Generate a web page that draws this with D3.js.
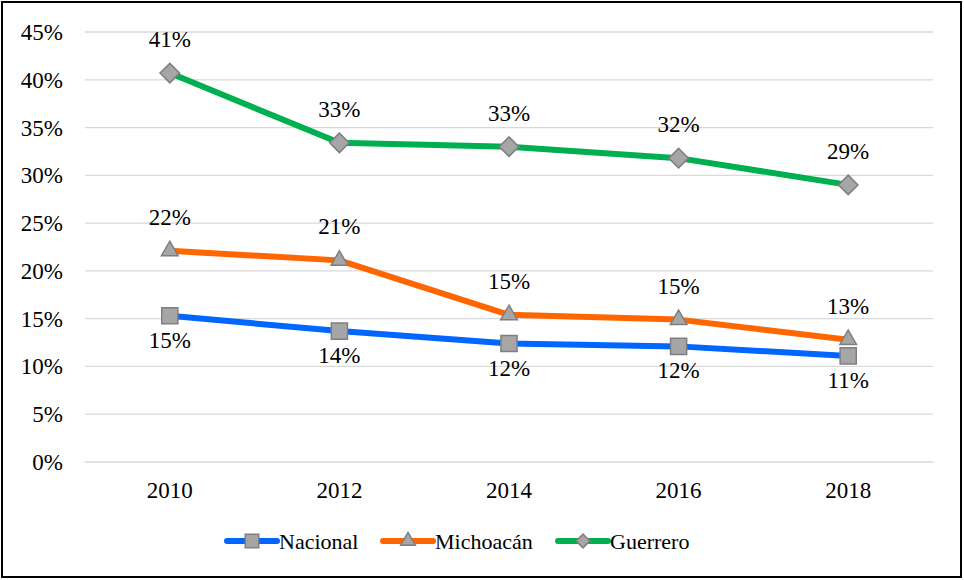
<!DOCTYPE html>
<html>
<head>
<meta charset="utf-8">
<script src="https://d3js.org/d3.v7.min.js"></script>
<style>
  @font-face { font-family: "ChartSerif"; src: local("Liberation Serif"), local("LiberationSerif"), local("Times New Roman"); }
</style>
</head>
<body style="margin:0;background:#fff">
<script>
// data
var years = ["2010", "2012", "2014", "2016", "2018"];
var nacional = [15.3, 13.7, 12.4, 12.1, 11.1];
var michoacan = [22.1, 21.1, 15.4, 14.9, 12.8];
var guerrero = [40.7, 33.4, 33.0, 31.8, 29.0];
var yTicks = [0, 5, 10, 15, 20, 25, 30, 35, 40, 45];

var series = [
  { name: "Nacional", values: nacional, color: "#0066ff", marker: "square", labelPos: "below" },
  { name: "Michoacán", values: michoacan, color: "#ff6600", marker: "triangle", labelPos: "above" },
  { name: "Guerrero", values: guerrero, color: "#00b050", marker: "diamond", labelPos: "above" }
];

var width = 964, height = 580;
var serif = "'Liberation Serif', ChartSerif, Tinos, 'Times New Roman', serif";

var svg = d3.select("body").append("svg")
    .attr("width", width)
    .attr("height", height)
    .style("font-family", serif);

// outer border
svg.append("rect")
    .attr("x", 2).attr("y", 2)
    .attr("width", width - 5).attr("height", height - 5)
    .attr("fill", "#fff")
    .attr("stroke", "#000")
    .attr("stroke-width", 2);

var x = d3.scaleBand().domain(years).range([85, 933]);
var y = d3.scaleLinear().domain([0, 45]).range([462, 32]);
var cx = d => x(d) + x.bandwidth() / 2;

function addText(px, py, str, anchor, size) {
  return svg.append("text")
      .attr("x", px).attr("y", py)
      .attr("text-anchor", anchor)
      .style("font-family", serif)
      .style("font-size", size + "px")
      .text(str);
}

// gridlines and y labels
yTicks.forEach(function(t) {
  svg.append("line")
      .attr("x1", 85).attr("x2", 933)
      .attr("y1", y(t)).attr("y2", y(t))
      .attr("stroke", "#d9d9d9")
      .attr("stroke-width", 1.3);
  addText(63, y(t) + 8, t + "%", "end", 23);
});

// x labels
years.forEach(function(yr) {
  addText(cx(yr), 498, yr, "middle", 23);
});

function drawMarker(type, px, py, small) {
  var sizes = small ? { square: 180, triangle: 95, diamond: 95 } : { square: 260, triangle: 120, diamond: 190 };
  var sym = type == "triangle" ? d3.symbolTriangle : d3.symbolSquare;
  var p = svg.append("path")
      .attr("d", d3.symbol().type(sym).size(sizes[type])())
      .attr("fill", "#a6a6a6")
      .attr("stroke", "#7f7f7f")
      .attr("stroke-width", 1.5);
  if (type == "diamond") p.attr("transform", "translate(" + px + "," + py + ") rotate(45)");
  else p.attr("transform", "translate(" + px + "," + py + ")");
}

var line = d3.line().x((d, i) => cx(years[i])).y(d => y(d));

series.forEach(function(s) {
  svg.append("path")
      .datum(s.values)
      .attr("d", line)
      .attr("fill", "none")
      .attr("stroke", s.color)
      .attr("stroke-width", 6)
      .attr("stroke-linejoin", "round");
});

series.forEach(function(s) {
  s.values.forEach(function(v, i) {
    drawMarker(s.marker, cx(years[i]), y(v), false);
    addText(cx(years[i]), s.labelPos == "above" ? y(v) - 26 : y(v) + 32, Math.round(v) + "%", "middle", 23);
  });
});

// legend
var legendX = [227, 383, 558];
series.forEach(function(s, i) {
  var lx = legendX[i], ly = 541;
  svg.append("line")
      .attr("x1", lx).attr("x2", lx + 50)
      .attr("y1", ly).attr("y2", ly)
      .attr("stroke", s.color)
      .attr("stroke-width", 6)
      .attr("stroke-linecap", "round");
  drawMarker(s.marker, lx + 25, ly, true);
  addText(lx + 52, ly + 8, s.name, "start", 22);
});
</script>
</body>
</html>
